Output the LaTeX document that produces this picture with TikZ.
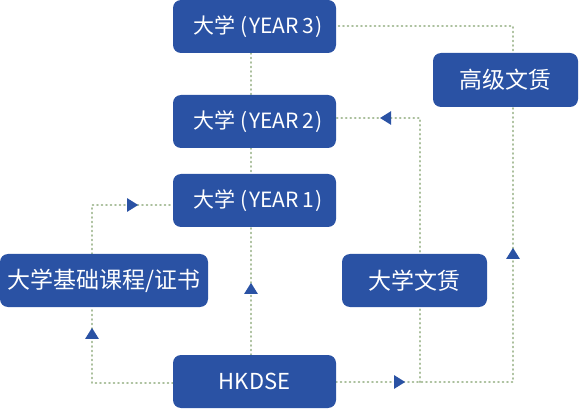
\documentclass[tikz,border=0pt]{standalone}
\usepackage{fontspec}
\newfontfamily\cjk{Noto Sans CJK SC}
\usetikzlibrary{arrows.meta,decorations.markings}
\definecolor{boxblue}{HTML}{2A52A4}
\definecolor{dotgreen}{HTML}{AABF9C}
\pgfdeclarelayer{bg}
\pgfsetlayers{bg,main}
\tikzset{
  box/.style={fill=boxblue, rounded corners=8pt, text=white, inner sep=0pt,
    font=\cjk\fontsize{21}{25}\selectfont, align=center},
  bigtext/.style={font=\cjk\fontsize{23}{27}\selectfont},
  yeartxt/.style={text=white, font=\cjk\fontsize{21}{25}\selectfont, inner sep=0pt},
  conn/.style={draw=dotgreen, line width=2.3pt, line cap=round,
    dash pattern=on 0.6pt off 3.9pt},
  tipat/.style={postaction={decorate, decoration={markings,
    mark=at position #1pt with {\arrow[boxblue]{Triangle[width=13pt,length=11pt]}}}}},
  tipat2/.style 2 args={postaction={decorate, decoration={markings,
    mark=at position #1pt with {\arrow[boxblue]{Triangle[width=13pt,length=11pt]}},
    mark=at position #2pt with {\arrow[boxblue]{Triangle[width=13pt,length=11pt]}}}}}
}
\newcommand{\yeartext}[1]{大学\hspace{5pt}(\hspace{1.5pt}YEAR\,#1\hspace{1.5pt})}
\begin{document}
\begin{tikzpicture}[x=1pt,y=-1pt]
\useasboundingbox (0,0) rectangle (579,409);
\node[box, minimum width=163pt, minimum height=53pt] (y3) at (254.5,26.5) {};
\node[yeartxt] (t3) at (258,27) {\yeartext{3}};
\node[box, minimum width=163pt, minimum height=53pt] (y2) at (254.5,121.5) {};
\node[yeartxt] (t2) at (258,122) {\yeartext{2}};
\node[box, minimum width=163pt, minimum height=53pt] (y1) at (254.5,200.5) {};
\node[yeartxt] (t1) at (258,201) {\yeartext{1}};
\node[box, minimum width=163pt, minimum height=53pt, font=\cjk\fontsize{22}{26}\selectfont] (hk) at (254.5,381.5) {HKDSE};
\node[box, bigtext, minimum width=208pt, minimum height=53pt] (jc) at (104,280.5) {大学基础课程/证书};
\node[box, bigtext, minimum width=145pt, minimum height=54pt] (gj) at (505.5,80) {高级文赁};
\node[box, bigtext, minimum width=145pt, minimum height=53pt] (dx) at (414.5,280.5) {大学文赁};
\coordinate (br) at (420,382);
\begin{pgfonlayer}{bg}
\draw[conn] (y3.south -| 251,0) -- (y2.north -| 251,0);
\draw[conn] (y2.south -| 251,0) -- (y1.north -| 251,0);
\draw[conn, tipat=72] (hk.north -| 251,0) -- (y1.south -| 251,0);
\draw[conn, tipat=136] (hk.west |- 0,383) -- (92,383) -- (jc.south -| 92,0);
\draw[conn, tipat=95] (jc.north -| 92,0) -- (92,205) -- (y1.west |- 0,205);
\draw[conn, tipat2={69}{311}] (hk.east |- 0,382) -- (513,382) -- (513,26) -- (y3.east |- 0,26);
\draw[conn, tipat=304] (br) -- (420,118) -- (y2.east |- 0,118);
\end{pgfonlayer}
\end{tikzpicture}
\end{document}
